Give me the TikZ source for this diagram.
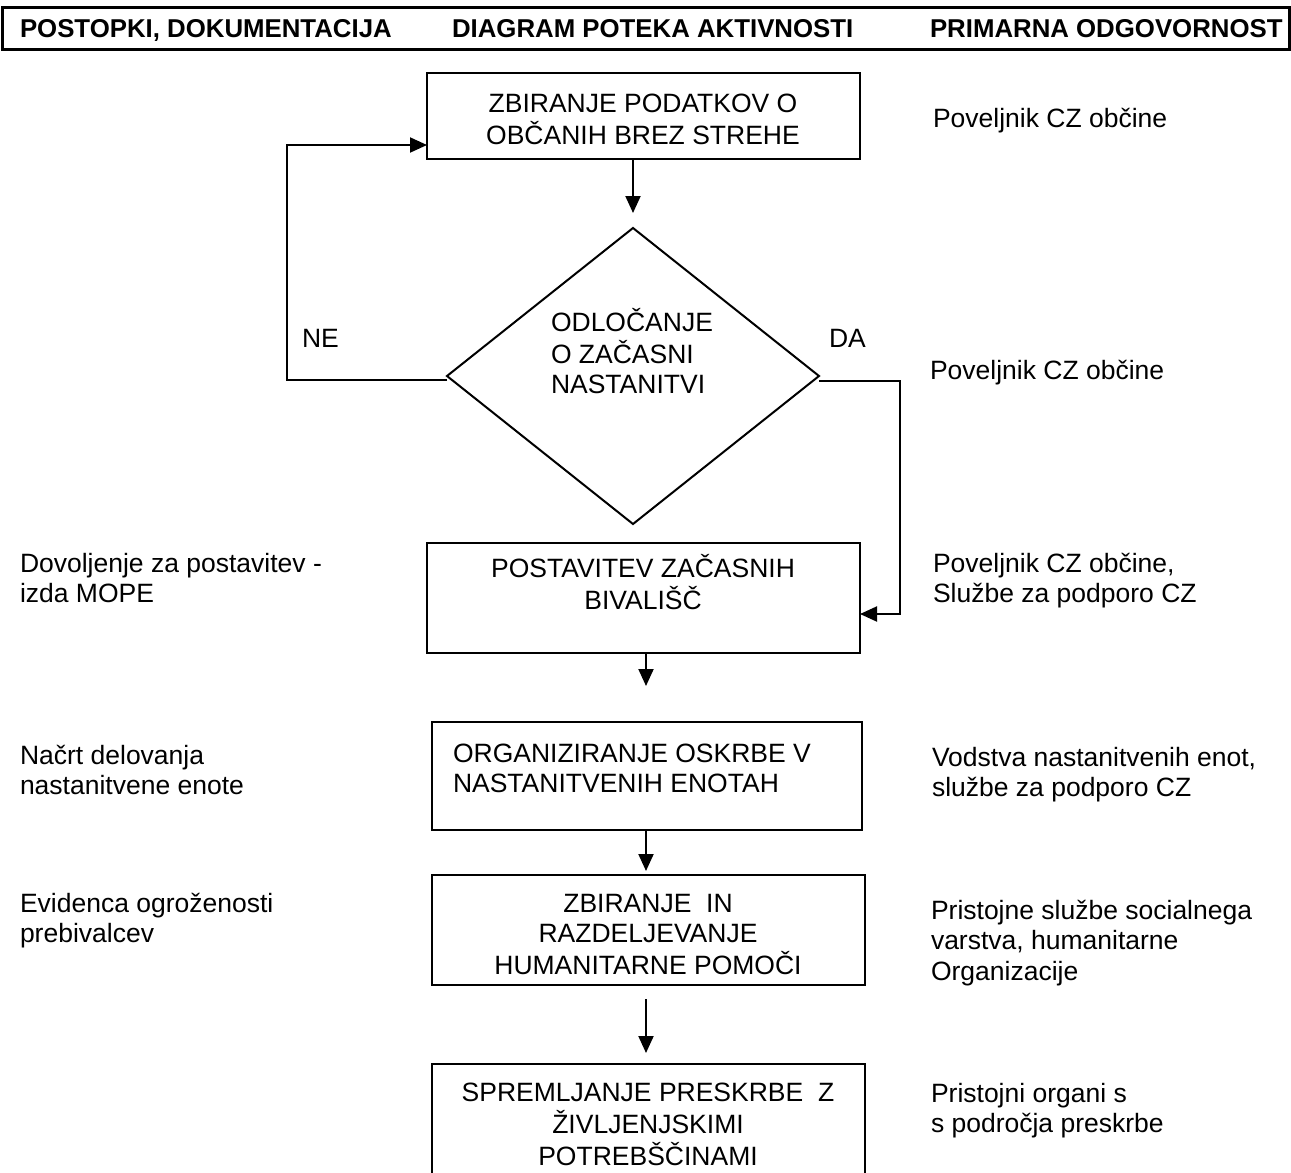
\documentclass[tikz,border=0pt]{standalone}
\usepackage{fontspec}
\setmainfont{Liberation Sans}
\usetikzlibrary{arrows.meta,shapes.geometric}
\newcommand{\mlL}[1]{\begin{tabular}[t]{@{}l@{}}#1\end{tabular}}
\newcommand{\mlC}[1]{\begin{tabular}[t]{@{}c@{}}#1\end{tabular}}
\begin{document}
\begin{tikzpicture}[x=0.5pt,y=-0.5pt,
  every node/.style={inner sep=0pt, outer sep=0pt, font=\fontsize{13.25}{15.25}\selectfont},
  hdr/.style={anchor=base west, font=\fontsize{12.9}{15}\selectfont\bfseries},
  txt/.style={anchor=base west},
  ctxt/.style={anchor=base},
  box/.style={draw, line width=1pt, rectangle, anchor=north west},
  arr/.style={line width=1pt, -{Triangle[length=8.5pt,width=7.5pt]}}
]
\useasboundingbox (0,0) rectangle (1291,1173);

% header
\node[draw, line width=1.5pt, minimum width=643.5pt, minimum height=21pt, anchor=north west] (hdrbox) at (2,7) {};
\node[hdr] (h1) at (20,37) {POSTOPKI, DOKUMENTACIJA};
\node[hdr] (h2) at (452,37) {DIAGRAM POTEKA AKTIVNOSTI};
\node[hdr] (h3) at (930,37) {PRIMARNA ODGOVORNOST};

% boxes
\node[box, minimum width=216.5pt, minimum height=43pt] (b1) at (427,73) {};
\node[draw, diamond, line width=1pt, minimum width=186pt, minimum height=148pt] (dia) at (633,376) {};
\node[box, minimum width=216.5pt, minimum height=55pt] (b3) at (427,543) {};
\node[box, minimum width=215pt, minimum height=54pt] (b4) at (432,722) {};
\node[box, minimum width=216.5pt, minimum height=55pt] (b5) at (432,875) {};
\node[box, minimum width=216.5pt, minimum height=70pt] (b6) at (432,1064) {};

% box texts
\node[ctxt] (t1) at (643,112) {\mlC{ZBIRANJE PODATKOV O\\OBČANIH BREZ STREHE}};
\node[txt] (t2) at (551,331) {\mlL{ODLOČANJE\\O ZAČASNI\\NASTANITVI}};
\node[ctxt] (t3) at (643,577) {\mlC{POSTAVITEV ZAČASNIH\\BIVALIŠČ}};
\node[txt] (t4) at (453,762) {\mlL{ORGANIZIRANJE OSKRBE V\\NASTANITVENIH ENOTAH}};
\node[ctxt] (t5) at (648,912) {\mlC{ZBIRANJE\ \ IN\\RAZDELJEVANJE\\HUMANITARNE POMOČI}};
\node[ctxt] (t6) at (648,1101) {\mlC{SPREMLJANJE PRESKRBE\ \ Z\\ŽIVLJENJSKIMI\\POTREBŠČINAMI}};

% branch labels
\node[txt] (ne) at (302,347) {NE};
\node[txt] (da) at (829,347) {DA};

% left column
\node[txt] (l1) at (20,572) {\mlL{Dovoljenje za postavitev -\\izda MOPE}};
\node[txt] (l2) at (20,764) {\mlL{Načrt delovanja\\nastanitvene enote}};
\node[txt] (l3) at (20,912) {\mlL{Evidenca ogroženosti\\prebivalcev}};

% right column
\node[txt] (r1) at (933,127) {Poveljnik CZ občine};
\node[txt] (r2) at (930,379) {Poveljnik CZ občine};
\node[txt] (r3) at (933,572) {\mlL{Poveljnik CZ občine,\\Službe za podporo CZ}};
\node[txt] (r4) at (932,766) {\mlL{Vodstva nastanitvenih enot,\\službe za podporo CZ}};
\node[txt] (r5) at (931,919) {\mlL{Pristojne službe socialnega\\varstva, humanitarne\\Organizacije}};
\node[txt] (r6) at (931,1102) {\mlL{Pristojni organi s\\s področja preskrbe}};

% connectors
\coordinate (neC) at (287,380);
\coordinate (daC) at (900,381);
\coordinate (a3e) at (646,686);
\coordinate (a4e) at (646,871);
\coordinate (a5e) at (646,1053);

\draw[arr] (b1.south -| dia.north) -- ([yshift=7.5pt]dia.north);
\draw[arr] ([yshift=-2pt]dia.west) -- (neC) |- ([yshift=-14.5pt]b1.west);
\draw[arr] ([yshift=-2.5pt]dia.east) -- (daC) |- ([yshift=-8pt]b3.east);
\draw[arr] (b3.south -| a3e) -- (a3e);
\draw[arr] (b4.south -| a4e) -- (a4e);
\draw[arr] ([yshift=-7pt]b5.south -| a5e) -- (a5e);
\end{tikzpicture}
\end{document}
